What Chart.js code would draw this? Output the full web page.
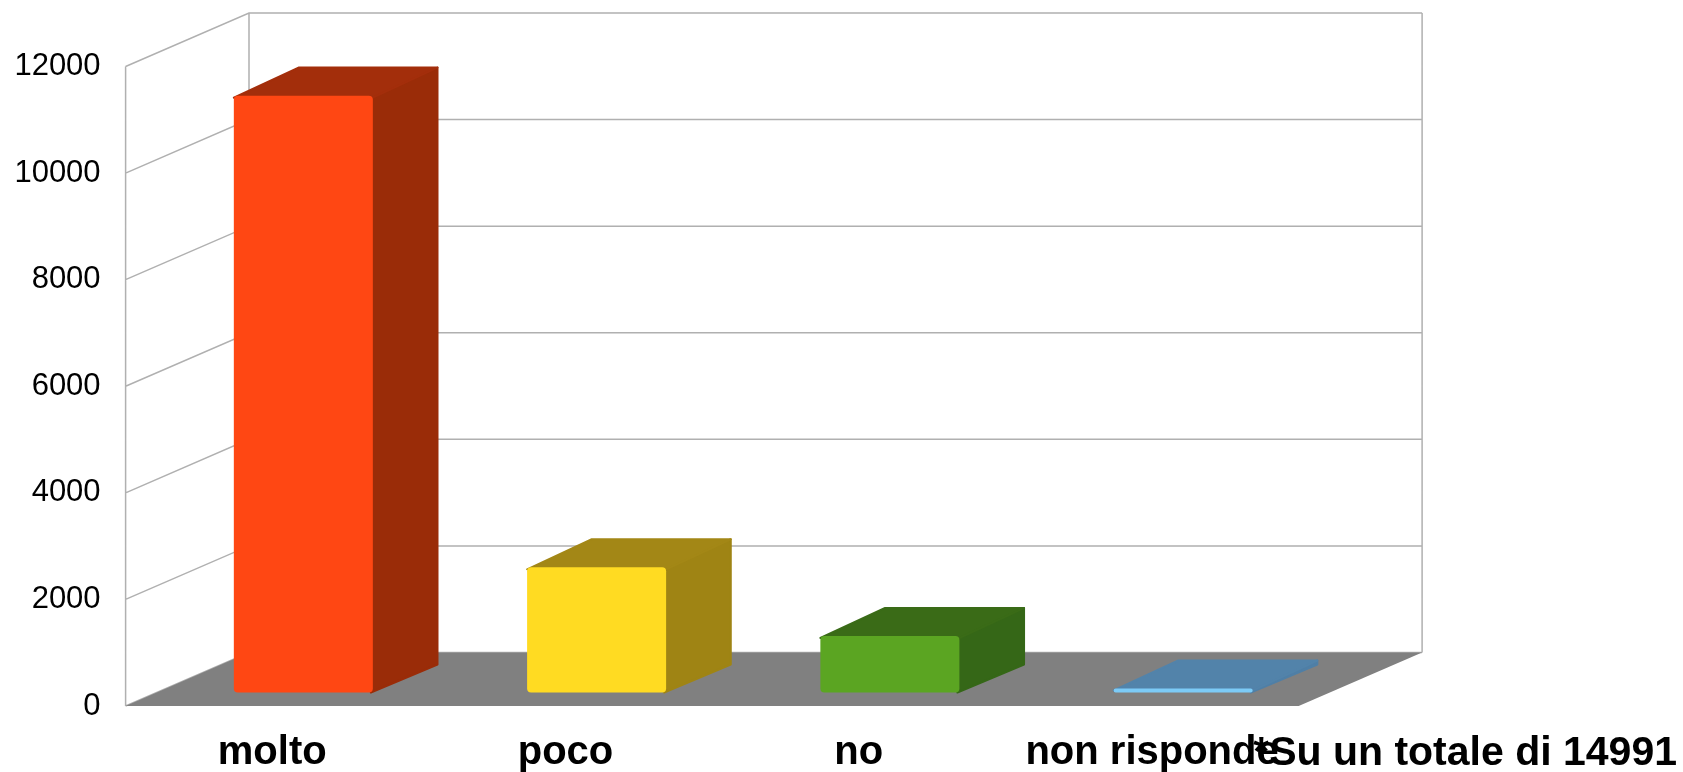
<!DOCTYPE html>
<html>
<head>
<meta charset="utf-8">
<script src="https://cdn.jsdelivr.net/npm/chart.js@4.4.1/dist/chart.umd.min.js"></script>
<style>
html,body{margin:0;padding:0;background:#ffffff;overflow:hidden}
#wrap{width:1683px;height:772px;position:relative}
</style>
</head>
<body>
<div id="wrap"><canvas id="c"></canvas></div>
<script>
// ---- data ----
const categories = ['molto', 'poco', 'no', 'non risponde'];
const values = [11200, 2350, 1060, 75];
const yTickValues = [0, 2000, 4000, 6000, 8000, 10000, 12000];
const noteText = '*Su un totale di 14991';

// ---- styles ----
const frontColors = ['#ff4713', '#ffdb22', '#5ba522', '#7ccbf7'];
const sideColors  = ['#9a2c08', '#9f8414', '#356717', '#4f7fa6'];
const topColors   = ['#a32e0b', '#a38716', '#3a6b17', '#5283aa'];

// oblique projection of the depth axis
const DX = 123.4, DY = -53.5;
const F1 = 0.252, F2 = 0.776;   // bar front / back depth fractions

const box3d = {
  id: 'box3d',
  beforeDatasetsDraw(chart) {
    const {ctx, chartArea: a, scales: {x, y}} = chart;
    const y0 = y.getPixelForValue(0);
    const yTop = y.getPixelForValue(y.max);
    ctx.save();
    // walls + grid
    ctx.strokeStyle = '#b0b0b0';
    ctx.lineWidth = 1.5;
    ctx.beginPath();
    for (const v of yTickValues) {
      const py = y.getPixelForValue(v);
      ctx.moveTo(a.left, py);
      ctx.lineTo(a.left + DX, py + DY);
      ctx.lineTo(a.right + DX, py + DY);
    }
    ctx.moveTo(a.left, y0); ctx.lineTo(a.left, yTop);
    ctx.moveTo(a.left + DX, y0 + DY); ctx.lineTo(a.left + DX, yTop + DY);
    ctx.moveTo(a.right + DX, y0 + DY); ctx.lineTo(a.right + DX, yTop + DY);
    ctx.stroke();
    // floor
    ctx.fillStyle = '#808080';
    ctx.beginPath();
    ctx.moveTo(a.left, y0);
    ctx.lineTo(a.right, y0);
    ctx.lineTo(a.right + DX, y0 + DY);
    ctx.lineTo(a.left + DX, y0 + DY);
    ctx.closePath();
    ctx.fill();
    // bar side + top faces
    const ox = DX * F1, oy = DY * F1;
    const ddx = DX * (F2 - F1), ddy = DY * (F2 - F1);
    const meta = chart.getDatasetMeta(0);
    ctx.lineJoin = 'round';
    meta.data.forEach((bar, i) => {
      const p = bar.getProps(['x', 'y', 'base', 'width'], true);
      const l = p.x - p.width / 2 + ox, r = p.x + p.width / 2 + ox;
      const t = p.y + oy, b = p.base + oy;
      // side
      ctx.fillStyle = sideColors[i];
      ctx.strokeStyle = sideColors[i];
      ctx.lineWidth = 2;
      ctx.beginPath();
      ctx.moveTo(r - 2, t);
      ctx.lineTo(r + ddx, t + ddy);
      ctx.lineTo(r + ddx, b + ddy);
      ctx.lineTo(r - 2, b);
      ctx.closePath();
      ctx.fill(); ctx.stroke();
      // top
      ctx.fillStyle = topColors[i];
      ctx.strokeStyle = topColors[i];
      ctx.beginPath();
      ctx.moveTo(l, t + 2);
      ctx.lineTo(l + ddx, t + ddy);
      ctx.lineTo(r + ddx, t + ddy);
      ctx.lineTo(r, t + 2);
      ctx.closePath();
      ctx.fill(); ctx.stroke();
    });
    ctx.restore();
    ctx.save();
    ctx.translate(ox, oy);
  },
  afterDatasetsDraw(chart) {
    chart.ctx.restore();
  },
  afterDraw(chart) {
    const ctx = chart.ctx;
    ctx.save();
    ctx.font = 'bold 41px "Liberation Sans", Arial, sans-serif';
    ctx.fillStyle = '#000';
    ctx.textAlign = 'right';
    ctx.textBaseline = 'alphabetic';
    ctx.fillText(noteText, 1677, 765);
    ctx.restore();
  }
};

new Chart(document.getElementById('c'), {
  type: 'bar',
  data: {
    labels: categories,
    datasets: [{
      data: values,
      backgroundColor: frontColors,
      borderWidth: 0,
      borderRadius: 4,
      borderSkipped: false,
      barPercentage: 0.474,
      categoryPercentage: 1,
      clip: false
    }]
  },
  options: {
    responsive: true,
    maintainAspectRatio: false,
    animation: false,
    events: [],
    layout: {padding: {left: 0, right: 384.3, top: 66.5, bottom: 0}},
    plugins: {legend: {display: false}, tooltip: {enabled: false}, title: {display: false}},
    scales: {
      x: {
        grid: {display: false, drawTicks: false},
        border: {display: false},
        ticks: {
          color: '#000',
          padding: 23,
          maxRotation: 0,
          autoSkip: false,
          font: {family: '"Liberation Sans", Arial, sans-serif', size: 40, weight: 'bold'}
        },
        afterFit(s) { s.height = 66; }
      },
      y: {
        min: 0,
        max: 12000,
        grid: {display: false, drawTicks: false},
        border: {display: false},
        afterBuildTicks(s) { s.ticks = yTickValues.map(v => ({value: v})); },
        ticks: {
          color: '#000',
          padding: 25,
          callback: v => String(v),
          font: {family: '"Liberation Sans", Arial, sans-serif', size: 31}
        },
        afterFit(s) { s.width = 125.6; }
      }
    }
  },
  plugins: [box3d]
});
</script>
</body>
</html>
